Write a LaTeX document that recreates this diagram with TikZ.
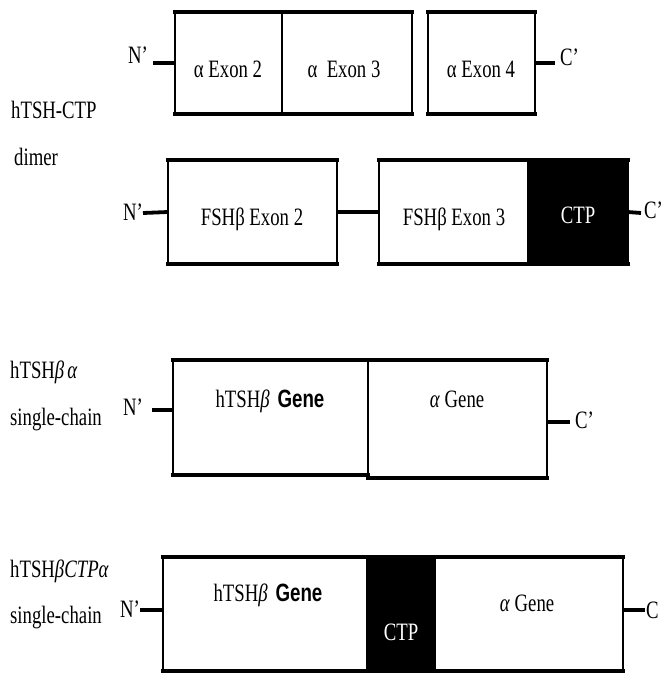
\documentclass[tikz,border=0pt]{standalone}
\usepackage{fontspec}
\setmainfont{Liberation Serif}
\newfontfamily\sansfnt{Liberation Sans}
\newcommand{\sq}[1]{\scalebox{0.75}[1]{#1}}
\newcommand{\bgene}{{\sansfnt\bfseries Gene}}
\newcommand{\seg}[6]{%
  \node[segbox, fill=#6, minimum width={(#4-#2)*1pt}, minimum height={(#5-#3)*1pt}]
    (#1) at ({(#2+#4)/2},{(#3+#5)/2}) {};}
\newcommand{\segborder}[1]{%
  \draw[sideline] (#1.north west) -- (#1.south west);
  \draw[sideline] (#1.north east) -- (#1.south east);
  \draw[edgeline] (#1.north west) -- (#1.north east);
  \draw[edgeline] (#1.south west) -- (#1.south east);}
\begin{document}
\begin{tikzpicture}[x=1pt,y=-1pt,
  segbox/.style={rectangle, inner sep=0pt, outer sep=0pt, draw=none},
  sideline/.style={line width=2pt},
  edgeline/.style={line width=4.2pt, line cap=rect},
  conn/.style={line width=3.8pt},
  txt/.style={inner sep=0pt, anchor=base, font=\fontsize{25}{29}\selectfont},
  lbl/.style={inner sep=0pt, anchor=base west, font=\fontsize{25}{29}\selectfont},
  wtxt/.style={txt, text=white}]
\useasboundingbox (0,0) rectangle (663,675);

% ---------- Row 1 ----------
\seg{e2}{175}{12}{282}{114}{white}
\seg{e3}{282}{12}{412}{114}{white}
\seg{e4}{428}{12}{535}{114}{white}
\segborder{e2}\segborder{e3}\segborder{e4}
\node[txt] (te2) at (228,77) {\sq{α Exon 2}};
\node[txt] (te3) at (344,77) {\sq{α\ \ Exon 3}};
\node[txt] (te4) at (481,77) {\sq{α Exon 4}};
\node[lbl] (n1) at (128,63) {\sq{N'}};
\coordinate (n1e) at (153,63);
\draw[conn] (n1e) -- (e2.west);
\coordinate (c1e) at (555,63);
\draw[conn] (e4.east) -- (c1e);
\node[lbl] (c1) at (560,65) {\sq{C'}};

\node[lbl] (l1a) at (11,118) {\sq{hTSH-CTP}};
\node[lbl] (l1b) at (14,165) {\sq{dimer}};

% ---------- Row 2 ----------
\seg{f2}{168}{160}{337}{264}{white}
\seg{f3}{379}{160}{528}{264}{white}
\seg{ct1}{528}{160}{628}{264}{black}
\segborder{f2}\segborder{f3}\segborder{ct1}
\node[txt] (tf2) at (252,225) {\sq{FSHβ Exon 2}};
\node[txt] (tf3) at (454,225) {\sq{FSHβ Exon 3}};
\node[wtxt] (tct1) at (578,223) {\sq{CTP}};
\node[lbl] (n2) at (123,220) {\sq{N'}};
\coordinate (n2e) at (143,213);
\draw[conn] (n2e) -- (f2.west);
\draw[conn] (f2.east) -- (f3.west);
\coordinate (c2e) at (641,213);
\draw[conn] (ct1.east) -- (c2e);
\node[lbl] (c2) at (644,218) {\sq{C'}};

% ---------- Row 3 ----------
\seg{g1}{173}{360}{368}{475}{white}
\seg{g2}{368}{360}{547}{478}{white}
\segborder{g1}\segborder{g2}
\node[txt] (tg1) at (270,407) {\sq{hTSH\textit{β}~\,\bgene}};
\node[txt] (tg2) at (457,407) {\sq{\textit{α} Gene}};
\node[lbl] (n3) at (123,415) {\sq{N'}};
\coordinate (n3e) at (152,410);
\draw[conn] (n3e) -- (n3e -| g1.west);
\coordinate (c3e) at (570,422);
\draw[conn] (c3e -| g2.east) -- (c3e);
\node[lbl] (c3) at (575,428) {\sq{C'}};
\node[lbl] (l3a) at (10,378) {\sq{hTSH\textit{β\,α}}};
\node[lbl] (l3b) at (10,425) {\sq{single-chain}};

% ---------- Row 4 ----------
\seg{h1}{163}{557}{367}{671}{white}
\seg{ct2}{367}{557}{435}{671}{black}
\seg{h2}{435}{557}{623}{671}{white}
\segborder{h1}\segborder{ct2}\segborder{h2}
\node[txt] (th1) at (268,601) {\sq{hTSH\textit{β}~\,\bgene}};
\node[wtxt] (tct2) at (401,640) {\sq{CTP}};
\node[txt] (th2) at (527,611) {\sq{\textit{α} Gene}};
\node[lbl] (n4) at (120,617) {\sq{N'}};
\coordinate (n4e) at (140,610);
\draw[conn] (n4e) -- (n4e -| h1.west);
\coordinate (c4e) at (645,610);
\draw[conn] (c4e -| h2.east) -- (c4e);
\node[lbl] (c4) at (646,618) {\sq{C}};
\node[lbl] (l4a) at (10,577) {\sq{hTSH\textit{βCTPα}}};
\node[lbl] (l4b) at (10,623) {\sq{single-chain}};
\end{tikzpicture}
\end{document}
